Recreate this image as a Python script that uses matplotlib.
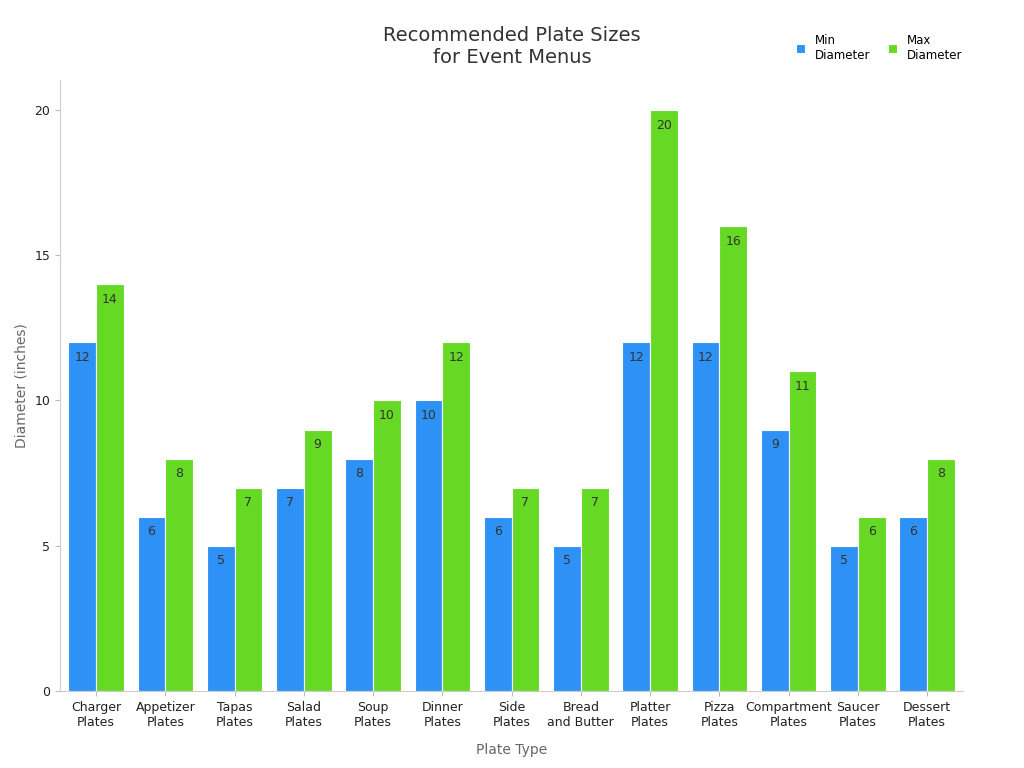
import matplotlib
matplotlib.use("Agg")
import matplotlib.pyplot as plt
import numpy as np

categories = ["Charger\nPlates", "Appetizer\nPlates", "Tapas\nPlates", "Salad\nPlates", "Soup\nPlates",
              "Dinner\nPlates", "Side\nPlates", "Bread\nand Butter", "Platter\nPlates", "Pizza\nPlates",
              "Compartment\nPlates", "Saucer\nPlates", "Dessert\nPlates"]
min_diameter = [12, 6, 5, 7, 8, 10, 6, 5, 12, 12, 9, 5, 6]
max_diameter = [14, 8, 7, 9, 10, 12, 7, 7, 20, 16, 11, 6, 8]
series_names = ["Min\nDiameter", "Max\nDiameter"]
colors = ["#2E91F5", "#66D925"]

plt.rcParams["font.family"] = "DejaVu Sans"
fig = plt.figure(figsize=(10.24, 7.68), dpi=100)
ax = fig.add_axes([0.0586, 0.1003, 0.882, 0.7955])
x = np.arange(len(categories))
w = 0.4
for i, (vals, c, name) in enumerate(zip([min_diameter, max_diameter], colors, series_names)):
    pos = x + (i - 0.5) * w
    bars = ax.bar(pos, vals, width=w, color=c, edgecolor="white", linewidth=0.8, label=name)
    for b, v in zip(bars, vals):
        ax.text(b.get_x() + b.get_width() / 2, v - 0.3, str(v), ha="center", va="top",
                fontsize=9, color="#333333")

ax.set_xlim(-0.52, 12.52)
ax.set_ylim(0, 21.03)
ax.set_xticks(x)
ax.set_xticklabels(categories, fontsize=9, color="#222222")
ax.set_yticks([0, 5, 10, 15, 20])
ax.tick_params(axis="y", labelsize=9, colors="#222222")
ax.tick_params(axis="both", color="#bbbbbb")
for s in ["top", "right"]:
    ax.spines[s].set_visible(False)
for s in ["left", "bottom"]:
    ax.spines[s].set_color("#cccccc")
ax.set_xlabel("Plate Type", fontsize=10, color="#666666", labelpad=10)
ax.set_ylabel("Diameter (inches)", fontsize=10, color="#666666")
fig.text(0.5, 0.94, "Recommended Plate Sizes\nfor Event Menus", ha="center", va="center",
         fontsize=14, color="#333333")
leg = fig.legend(loc="upper right", bbox_to_anchor=(0.95, 0.97), ncol=2, frameon=False,
                 fontsize=8.5, handlelength=0.8, handleheight=0.8, columnspacing=1.5)
fig.savefig("out.png", dpi=100)
